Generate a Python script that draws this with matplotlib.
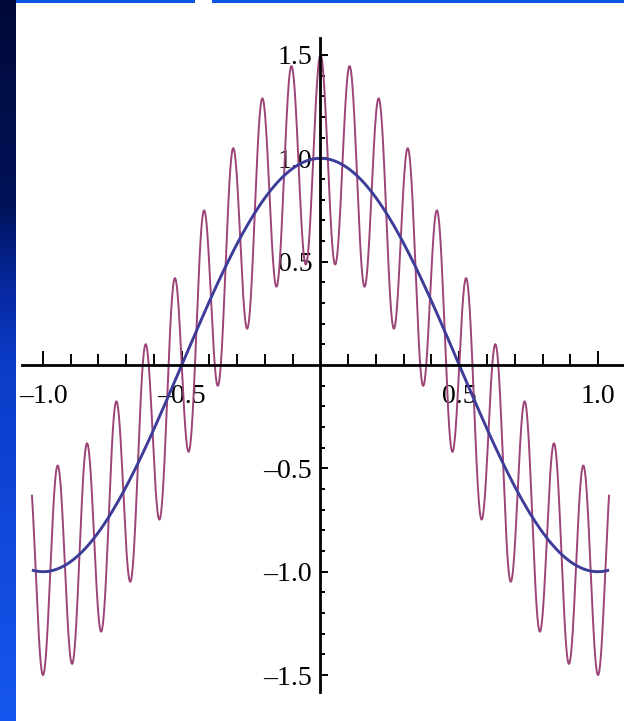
import numpy as np
import matplotlib
matplotlib.use("Agg")
import matplotlib.pyplot as plt
from matplotlib.patches import Rectangle
from matplotlib.colors import LinearSegmentedColormap

# ---- plotted functions: cos(pi x)  and  cos(pi x) + 0.5 cos(19 pi x) ----
x_domain = [-1.04, 1.04]
base_amplitude = 1.0
base_frequency = 1          # multiples of pi
ripple_amplitude = 0.5
ripple_frequency = 19       # multiples of pi

# ---- axis ticks ----
x_major = [-1.0, -0.5, 0.5, 1.0]
x_major_labels = ["\u20131.0", "\u20130.5", "0.5", "1.0"]
y_major = [-1.5, -1.0, -0.5, 0.5, 1.0, 1.5]
y_major_labels = ["\u20131.5", "\u20131.0", "\u20130.5", "0.5", "1.0", "1.5"]
x_minor = [-0.9, -0.8, -0.7, -0.6, -0.4, -0.3, -0.2, -0.1,
           0.1, 0.2, 0.3, 0.4, 0.6, 0.7, 0.8, 0.9]
y_minor = [-1.4, -1.3, -1.2, -1.1, -0.9, -0.8, -0.7, -0.6, -0.4, -0.3, -0.2, -0.1,
           0.1, 0.2, 0.3, 0.4, 0.6, 0.7, 0.8, 0.9, 1.1, 1.2, 1.3, 1.4]

W, H, DPI = 624, 721, 100
fig = plt.figure(figsize=(W / DPI, H / DPI), dpi=DPI, facecolor="white")

# axes fill the whole canvas; limits put the origin where the axes cross
ax = fig.add_axes([0, 0, 1, 1])
ax.set_facecolor("white")
px_per_x, x0_px = 277.5, 320.5
px_per_y, y0_px = 206.7, 365.0
ax.set_xlim(-x0_px / px_per_x, (W - x0_px) / px_per_x)
ax.set_ylim((y0_px - H) / px_per_y, y0_px / px_per_y)

xs = np.linspace(x_domain[0], x_domain[1], 4000)
smooth = base_amplitude * np.cos(base_frequency * np.pi * xs)
rippled = smooth + ripple_amplitude * np.cos(ripple_frequency * np.pi * xs)

ax.plot(xs, rippled, color="#9c4478", lw=1.4, zorder=3, solid_capstyle="butt")
ax.plot(xs, smooth, color="#3D3D99", lw=2.1, zorder=3.2, solid_capstyle="butt")

# Mathematica-style axes through the origin
for side in ("top", "right"):
    ax.spines[side].set_visible(False)
ax.spines["left"].set_position(("data", 0))
ax.spines["bottom"].set_position(("data", 0))
ax.spines["left"].set_bounds(-1.58, 1.58)
ax.spines["bottom"].set_bounds(-1.076, 1.2)
for side in ("left", "bottom"):
    ax.spines[side].set_linewidth(2.0)
    ax.spines[side].set_color("black")
    ax.spines[side].set_zorder(4)

ax.set_xticks(x_major)
ax.set_xticklabels(x_major_labels)
ax.set_xticks(x_minor, minor=True)
ax.set_yticks(y_major)
ax.set_yticklabels(y_major_labels)
ax.set_yticks(y_minor, minor=True)

ax.tick_params(axis="x", which="major", direction="in", length=10, width=1.4,
               pad=14, labelsize=20, colors="black")
ax.tick_params(axis="x", which="minor", direction="in", length=8, width=1.4)
ax.tick_params(axis="y", which="major", direction="in", length=6, width=1.4,
               pad=6, labelsize=20, colors="black")
ax.tick_params(axis="y", which="minor", direction="in", length=3.6, width=1.4)
for lab in ax.get_xticklabels() + ax.get_yticklabels():
    lab.set_fontfamily("Liberation Serif")
ax.xaxis.set_zorder(2.5)
ax.yaxis.set_zorder(2.5)

# slide frame: gradient strip on the left and thin bar along the top
strip = fig.add_axes([0, 0, 16 / W, 1], zorder=10)
grad = LinearSegmentedColormap.from_list(
    "frame", [(0.0, "#000a38"), (0.28, "#001258"), (0.4, "#0628a0"),
              (0.5, "#0b3cc8"), (1.0, "#1656ee")])
strip.imshow(np.linspace(0, 1, 256)[:, None], aspect="auto", cmap=grad,
             extent=[0, 1, 0, 1], origin="upper")
strip.set_axis_off()
fig.add_artist(Rectangle((16 / W, 1 - 2.5 / H), 1, 2.5 / H, transform=fig.transFigure,
                         facecolor="#0a55e2", edgecolor="none", zorder=11))
fig.add_artist(Rectangle((195 / W, 1 - 2.5 / H), 17 / W, 2.5 / H, transform=fig.transFigure,
                         facecolor="white", edgecolor="none", zorder=12))

fig.savefig("out.png", dpi=DPI, facecolor="white")
